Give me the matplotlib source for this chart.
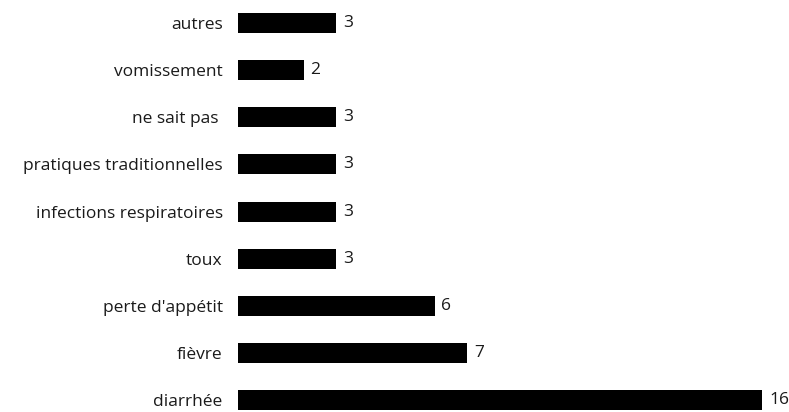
import matplotlib
matplotlib.use("Agg")
import matplotlib.pyplot as plt

# Categories listed bottom to top
categories = ["diarrhée", "fièvre", "perte d'appétit", "toux",
              "infections respiratoires", "pratiques traditionnelles",
              "ne sait pas ", "vomissement", "autres"]
counts = [16, 7, 6, 3, 3, 3, 3, 2, 3]

plt.rcParams['font.family'] = ['Open Sans', 'DejaVu Sans']

fig = plt.figure(figsize=(7.89, 4.12), dpi=100)
ax = fig.add_axes([238 / 789, 0, 524 / 789, 1])

ypos = list(range(len(categories)))
bars = ax.barh(ypos, counts, height=0.425, color='black')

for y, v in zip(ypos, counts):
    ax.annotate(str(v), xy=(v, y), xytext=(5, 0), textcoords='offset points',
                ha='left', va='center', fontsize=12.5, color='#1a1a1a',
                annotation_clip=False)

ax.set_xlim(0, 16)
ax.set_ylim(-0.255, 8.49)
ax.set_yticks(ypos)
ax.set_yticklabels(categories, fontsize=12.5, color='#1a1a1a')
ax.set_xticks([])
ax.tick_params(axis='y', length=0, pad=11)
for s in ax.spines.values():
    s.set_visible(False)

fig.savefig("out.png", dpi=100)
